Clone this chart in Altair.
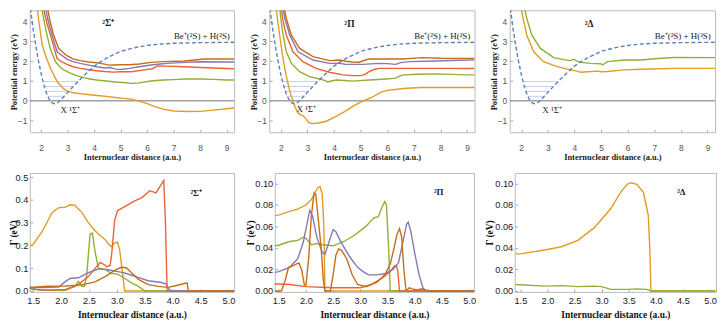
import altair as alt
import pandas as pd

BLUE, ORANGE, GREEN, RED, PURPLE, BROWN = "#5E81B5", "#E19C24", "#8FB032", "#EB6235", "#8778B3", "#C56E1A"

# ---------------- ground state X 1Σ+ (dashed, upper panels) ----------------
X_R = [1.57, 1.62, 1.7, 1.8, 1.9, 2.0, 2.1, 2.2, 2.3, 2.4, 2.5, 2.6, 2.7, 2.8, 3.0, 3.25, 3.5,
       3.75, 4.0, 4.25, 4.5, 5.0, 5.5, 6.0, 6.5, 7.0, 8.0, 9.28]
X_V = [5.0, 4.4, 3.6, 2.75, 2.0, 1.35, 0.8, 0.38, 0.08, -0.1, -0.16, -0.12, -0.02, 0.12, 0.42, 0.78, 1.12,
       1.45, 1.75, 1.98, 2.18, 2.5, 2.68, 2.8, 2.87, 2.91, 2.94, 2.96]
VIB_V = [0.22, 0.47, 0.72, 0.97]
VIB_R1 = [2.25, 2.18, 2.12, 2.07]
VIB_R2 = [2.86, 3.03, 3.2, 3.39]

# ---------------- 2Σ+ potential curves ----------------
S1_R = [1.83, 1.9, 2.04, 2.2, 2.35, 2.6, 2.85, 3.0, 3.22, 3.5, 3.84, 4.2, 4.46, 4.8, 5.09, 5.4, 5.7, 6.0, 6.3, 6.6, 7.0, 7.5, 8.0, 8.5, 9.0, 9.28]
S1_V = [5.0, 4.1, 2.81, 2.15, 1.64, 0.97, 0.6, 0.48, 0.4, 0.35, 0.3, 0.25, 0.22, 0.16, 0.12, 0.08, -0.02, -0.15, -0.3, -0.43, -0.52, -0.55, -0.54, -0.48, -0.41, -0.37]
S2_R = [1.98, 2.1, 2.22, 2.35, 2.54, 2.7, 2.85, 3.1, 3.34, 3.6, 3.84, 4.1, 4.46, 4.8, 5.09, 5.4, 5.7, 6.14, 6.6, 7.0, 7.39, 8.0, 8.5, 9.0, 9.28]
S2_V = [5.0, 4.1, 3.32, 2.6, 1.97, 1.72, 1.56, 1.4, 1.27, 1.17, 1.1, 1.05, 1.0, 0.95, 0.92, 0.88, 0.9, 1.0, 1.05, 1.07, 1.1, 1.1, 1.08, 1.05, 1.05]
S3_R = [2.04, 2.2, 2.35, 2.6, 2.8, 2.97, 3.2, 3.47, 3.8, 4.09, 4.4, 4.71, 5.0, 5.4, 5.9, 6.2, 6.39, 6.7, 7.39, 8.0, 9.0, 9.28]
S3_V = [5.0, 4.0, 3.32, 2.14, 1.95, 1.84, 1.72, 1.64, 1.57, 1.52, 1.48, 1.45, 1.47, 1.47, 1.56, 1.62, 1.76, 1.75, 1.72, 1.68, 1.63, 1.62]
S4_R = [2.13, 2.25, 2.41, 2.6, 2.97, 3.2, 3.47, 3.8, 4.09, 4.4, 4.6, 4.8, 5.0, 5.34, 5.7, 6.14, 6.5, 6.76, 7.2, 8.0, 9.0, 9.28]
S4_V = [5.0, 4.1, 3.32, 2.48, 2.11, 1.98, 1.89, 1.8, 1.72, 1.66, 1.68, 1.6, 1.58, 1.64, 1.72, 1.81, 1.86, 1.89, 1.93, 1.97, 1.96, 1.96]
S5_R = [2.2, 2.32, 2.47, 2.66, 2.97, 3.2, 3.47, 3.8, 4.09, 4.4, 4.55, 4.71, 5.0, 5.34, 5.7, 6.14, 6.6, 7.39, 7.8, 8.13, 9.0, 9.28]
S5_V = [5.0, 4.1, 3.32, 2.64, 2.28, 2.12, 2.03, 1.96, 1.92, 1.85, 1.8, 1.81, 1.82, 1.82, 1.86, 1.94, 1.98, 2.01, 2.06, 2.11, 2.11, 2.11]

# ---------------- 2Π potential curves ----------------
P1_R = [1.81, 1.88, 1.96, 2.05, 2.15, 2.25, 2.34, 2.46, 2.55, 2.65, 2.75, 2.85, 2.95, 3.05, 3.15, 3.3, 3.45, 3.71, 4.08, 4.4, 4.75, 5.12, 5.4, 5.75, 6.0, 6.3, 6.62, 7.24, 8.0, 9.0, 9.28]
P1_V = [5.0, 4.1, 3.32, 2.45, 1.64, 1.0, 0.47, -0.03, -0.35, -0.62, -0.72, -0.78, -0.92, -1.1, -1.15, -1.15, -1.12, -1.04, -0.79, -0.55, -0.25, 0.0, 0.15, 0.42, 0.52, 0.57, 0.62, 0.67, 0.67, 0.67, 0.67]
P2_R = [1.94, 2.0, 2.09, 2.21, 2.4, 2.71, 3.08, 3.46, 3.64, 3.77, 3.9, 4.08, 4.4, 4.7, 5.32, 5.95, 6.32, 6.45, 6.62, 7.19, 7.86, 9.0, 9.28]
P2_V = [5.0, 4.2, 3.32, 2.48, 1.89, 1.47, 1.22, 1.1, 1.03, 0.95, 1.0, 1.05, 1.02, 0.99, 1.05, 1.1, 1.14, 1.25, 1.31, 1.34, 1.36, 1.31, 1.31]
P3_R = [1.99, 2.08, 2.21, 2.46, 2.83, 3.33, 3.83, 4.33, 4.7, 5.0, 5.15, 5.32, 5.5, 5.7, 6.57, 8.0, 9.28]
P3_V = [5.0, 4.1, 3.32, 2.48, 1.98, 1.64, 1.44, 1.31, 1.27, 1.27, 1.32, 1.47, 1.58, 1.64, 1.64, 1.64, 1.63]
P4_R = [2.04, 2.15, 2.34, 2.65, 3.21, 3.83, 4.2, 4.45, 4.7, 5.07, 5.7, 6.0, 6.32, 6.5, 6.82, 7.82, 9.28]
P4_V = [5.0, 4.2, 3.32, 2.48, 2.06, 1.89, 1.9, 1.84, 1.84, 1.84, 1.89, 1.88, 1.84, 1.93, 1.98, 2.01, 2.07]
P5_R = [2.09, 2.2, 2.4, 2.71, 3.21, 3.83, 4.2, 4.45, 4.7, 4.95, 5.15, 5.32, 6.57, 7.32, 8.0, 9.28]
P5_V = [5.0, 4.2, 3.32, 2.65, 2.23, 2.03, 2.06, 2.0, 1.96, 1.95, 2.05, 2.11, 2.11, 2.18, 2.15, 2.14]

# ---------------- 2Δ potential curves ----------------
D1_R = [1.96, 2.05, 2.21, 2.47, 2.84, 3.35, 3.85, 4.1, 4.23, 4.5, 4.86, 5.0, 5.24, 5.87, 6.5, 7.76, 9.28]
D1_V = [5.0, 4.3, 3.32, 2.48, 1.98, 1.73, 1.56, 1.5, 1.44, 1.47, 1.5, 1.47, 1.48, 1.56, 1.59, 1.64, 1.64]
D2_R = [2.09, 2.2, 2.4, 2.72, 3.22, 3.6, 3.85, 3.98, 4.1, 4.23, 4.61, 4.99, 5.05, 5.24, 5.87, 6.5, 7.13, 7.76, 9.28]
D2_V = [5.0, 4.2, 3.32, 2.65, 2.18, 2.08, 2.03, 2.1, 2.0, 1.94, 1.89, 1.87, 1.81, 1.98, 2.06, 2.06, 2.14, 2.19, 2.18]

# ---------------- widths Γ, 2Σ+ ----------------
GS1_R = [1.41, 1.5, 1.66, 1.84, 1.96, 2.08, 2.16, 2.25, 2.37, 2.49, 2.58, 2.67, 2.79, 2.85, 2.9, 2.96, 3.01, 3.05, 3.11, 3.14, 5.1]
GS1_G = [0.194, 0.205, 0.26, 0.345, 0.365, 0.368, 0.378, 0.375, 0.345, 0.3, 0.272, 0.25, 0.225, 0.205, 0.195, 0.21, 0.215, 0.18, 0.06, 0.0, 0.0]
GS2_R = [1.41, 1.5, 1.6, 1.78, 2.08, 2.25, 2.31, 2.37, 2.42, 2.46, 2.52, 2.56, 2.61, 2.67, 2.79, 2.9, 3.02, 3.14, 3.26, 3.38, 3.5, 5.1]
GS2_G = [0.022, 0.011, 0.004, 0.003, 0.003, 0.02, 0.042, 0.021, 0.021, 0.07, 0.25, 0.254, 0.17, 0.1, 0.095, 0.077, 0.073, 0.056, 0.035, 0.021, 0.0, 0.0]
GS3_R = [1.41, 1.5, 1.78, 2.08, 2.31, 2.49, 2.61, 2.7, 2.78, 2.82, 2.88, 2.91, 2.96, 3.01, 3.14, 3.32, 3.45, 3.59, 3.7, 3.8, 3.84, 3.87, 3.9, 5.1]
GS3_G = [0.014, 0.007, 0.003, 0.007, 0.028, 0.063, 0.099, 0.125, 0.115, 0.106, 0.113, 0.17, 0.31, 0.352, 0.37, 0.395, 0.41, 0.44, 0.43, 0.47, 0.485, 0.3, 0.0, 0.0]
GS4_R = [1.41, 1.5, 1.78, 1.96, 2.08, 2.16, 2.31, 2.49, 2.67, 2.85, 3.02, 3.14, 3.38, 3.56, 3.8, 3.88, 3.94, 4.0, 5.1]
GS4_G = [0.02, 0.014, 0.016, 0.017, 0.042, 0.055, 0.058, 0.08, 0.097, 0.093, 0.085, 0.079, 0.06, 0.045, 0.037, 0.03, 0.005, 0.0, 0.0]
GS5_R = [1.41, 1.5, 1.78, 2.08, 2.37, 2.61, 2.79, 2.96, 3.08, 3.17, 3.26, 3.38, 3.56, 3.74, 3.91, 4.03, 4.21, 4.26, 4.28, 5.1]
GS5_G = [0.007, 0.017, 0.021, 0.022, 0.027, 0.04, 0.063, 0.09, 0.104, 0.102, 0.08, 0.052, 0.028, 0.02, 0.016, 0.022, 0.033, 0.035, 0.0, 0.0]

# ---------------- widths Γ, 2Π ----------------
GP1_R = [1.41, 1.5, 1.7, 1.85, 2.0, 2.1, 2.17, 2.22, 2.26, 2.3, 2.33, 2.35, 5.1]
GP1_G = [0.070, 0.0705, 0.074, 0.076, 0.08, 0.085, 0.092, 0.096, 0.097, 0.09, 0.06, 0.0, 0.0]
GP2_R = [1.41, 1.5, 1.7, 1.85, 1.95, 2.0, 2.1, 2.2, 2.3, 2.5, 2.7, 2.9, 3.1, 3.25, 3.33, 3.4, 3.45, 3.48, 3.52, 3.55, 5.1]
GP2_G = [0.042, 0.0425, 0.046, 0.047, 0.05, 0.049, 0.043, 0.044, 0.043, 0.042, 0.046, 0.052, 0.06, 0.068, 0.069, 0.078, 0.083, 0.08, 0.04, 0.0, 0.0]
GP3_R = [1.41, 1.5, 1.7, 2.0, 2.5, 3.0, 3.2, 3.4, 3.55, 3.62, 3.66, 3.69, 3.72, 5.1]
GP3_G = [0.0065, 0.0065, 0.006, 0.004, 0.003, 0.003, 0.006, 0.012, 0.018, 0.023, 0.024, 0.018, 0.0, 0.0]
GP4_R = [1.41, 1.5, 1.7, 1.85, 1.95, 2.03, 2.07, 2.12, 2.2, 2.3, 2.35, 2.42, 2.5, 2.55, 2.65, 2.8, 2.95, 3.05, 3.15, 3.3, 3.45, 3.6, 3.7, 3.78, 3.85, 3.88, 3.93, 4.0, 4.08, 4.15, 4.2, 5.1]
GP4_G = [0.017, 0.018, 0.022, 0.03, 0.045, 0.065, 0.075, 0.07, 0.05, 0.036, 0.034, 0.045, 0.057, 0.055, 0.045, 0.032, 0.022, 0.018, 0.015, 0.015, 0.016, 0.02, 0.026, 0.045, 0.062, 0.064, 0.055, 0.035, 0.015, 0.003, 0.0, 0.0]
GP5_R = [1.41, 1.55, 1.62, 1.68, 1.75, 1.82, 1.87, 1.92, 1.97, 2.0, 2.05, 2.1, 2.15, 2.18, 2.22, 2.28, 2.32, 2.35, 2.45, 2.5, 2.55, 2.6, 2.65, 2.75, 2.85, 2.95, 3.1, 3.3, 3.45, 3.55, 3.62, 3.67, 3.72, 3.76, 3.8, 3.84, 3.9, 3.95, 4.05, 4.12, 4.2, 4.3, 5.1]
GP5_G = [0.0, 0.0, 0.01, 0.022, 0.023, 0.025, 0.026, 0.02, 0.006, 0.005, 0.03, 0.07, 0.091, 0.09, 0.07, 0.04, 0.01, 0.0, 0.0, 0.015, 0.033, 0.039, 0.038, 0.03, 0.015, 0.006, 0.004, 0.008, 0.015, 0.025, 0.04, 0.052, 0.058, 0.05, 0.02, 0.0, 0.003, 0.002, 0.001, 0.002, 0.001, 0.0, 0.0]

# ---------------- widths Γ, 2Δ ----------------
GD1_R = [1.41, 1.5, 1.95, 2.26, 2.56, 2.86, 3.17, 3.35, 3.47, 3.54, 3.65, 3.77, 3.86, 3.89, 3.91, 5.1]
GD1_G = [0.0345, 0.0345, 0.0381, 0.0411, 0.0471, 0.0586, 0.0766, 0.0916, 0.0991, 0.1006, 0.0991, 0.0916, 0.0706, 0.0375, 0.0, 0.0]
GD2_R = [1.41, 1.95, 2.26, 2.56, 2.86, 3.0, 3.17, 3.47, 3.65, 3.83, 3.91, 5.1]
GD2_G = [0.006, 0.0045, 0.005, 0.004, 0.0045, 0.004, 0.0015, 0.0015, 0.002, 0.0015, 0.0, 0.0]

LAB_FONT = "Liberation Sans"
TIT_FONT = "Liberation Serif"


def curves_df(rs_list, vs_list, names):
    rows = []
    for n, rs, vs in zip(names, rs_list, vs_list):
        for i, (r, v) in enumerate(zip(rs, vs)):
            rows.append({"state": n, "R": r, "V": v, "i": i})
    return pd.DataFrame(rows)


def top_panel(rs_list, vs_list, colors, sym, sym_pos, xlab_pos, width):
    names = [f"c{k}" for k in range(len(rs_list))]
    xs = alt.Scale(domain=[1.57, 9.28], nice=False, zero=False)
    ys = alt.Scale(domain=[-1.6, 4.58], nice=False, zero=False)
    xax = alt.Axis(values=[2, 3, 4, 5, 6, 7, 8, 9], format="d", title="Internuclear distance (a.u.)",
                   titleFont=TIT_FONT, titleFontWeight="bold", titleFontSize=8.5, titleColor="#222",
                   labelFont=LAB_FONT, labelFontSize=8.5, labelColor="#555", grid=False, domain=False,
                   tickSize=3, tickColor="#aaa", offset=-3, labelPadding=11, titlePadding=1)
    yax = alt.Axis(values=[-1, 0, 1, 2, 3, 4], format="d", title="Potential energy (eV)",
                   titleFont=TIT_FONT, titleFontWeight="bold", titleFontSize=8.5, titleColor="#222",
                   titleX=-16, titleY=62, titleBaseline="alphabetic",
                   labelFont=LAB_FONT, labelFontSize=8.5, labelColor="#555", grid=False, domain=False,
                   tickSize=3, tickColor="#aaa", offset=-3, labelPadding=3)
    X = alt.X("R:Q", scale=xs, axis=xax)
    Y = alt.Y("V:Q", scale=ys, axis=yax)

    zero = alt.Chart(pd.DataFrame({"V": [0.0]})).mark_rule(color="#a0a0a0", strokeWidth=1.5).encode(y=Y)
    vib = alt.Chart(pd.DataFrame({"R": VIB_R1, "R2": VIB_R2, "V": VIB_V})).mark_rule(
        color="#c8ccee", strokeWidth=1).encode(x=X, x2="R2:Q", y=Y)
    cdf = curves_df(rs_list, vs_list, names)
    curves = alt.Chart(cdf).mark_line(clip=True, strokeWidth=1.4).encode(
        x=X, y=Y, order="i:Q",
        color=alt.Color("state:N", scale=alt.Scale(domain=names, range=colors), legend=None))
    gdf = pd.DataFrame({"R": X_R, "V": X_V, "i": list(range(len(X_R)))})
    ground = alt.Chart(gdf).mark_line(clip=True, strokeWidth=1.4, strokeDash=[4, 2.5], color=BLUE).encode(
        x=X, y=Y, order="i:Q")
    ann = pd.DataFrame({"R": [sym_pos[0], xlab_pos[0]], "V": [sym_pos[1], xlab_pos[1]],
                        "t": [sym, "X ¹Σ⁺"], "w": ["bold", "normal"]})
    t_sym = alt.Chart(ann.iloc[[0]]).mark_text(
        font=TIT_FONT, fontSize=9.5, fontWeight="bold", color="#222", align="center").encode(
        x=X, y=Y, text="t:N")
    t_asym = alt.Chart(pd.DataFrame({"R": [9.12], "V": [3.3], "t": ["Be⁺(²S) + H(²S)"]})).mark_text(
        font=TIT_FONT, fontSize=9, color="#222", align="right").encode(x=X, y=Y, text="t:N")
    t_x = alt.Chart(ann.iloc[[1]]).mark_text(
        font=TIT_FONT, fontSize=9, color="#222", align="center").encode(x=X, y=Y, text="t:N")
    return alt.layer(zero, vib, curves, ground, t_sym, t_asym, t_x).properties(width=width, height=123)


def bottom_panel(rs_list, gs_list, colors, sym, sym_pos, xdom, ymax, yvals, yfmt, width, title_x):
    names = [f"c{k}" for k in range(len(rs_list))]
    xs = alt.Scale(domain=xdom, nice=False, zero=False)
    ys = alt.Scale(domain=[-ymax * 0.008, ymax], nice=False, zero=False)
    xax = alt.Axis(values=[1.5, 2.0, 2.5, 3.0, 3.5, 4.0, 4.5, 5.0], format=".1f",
                   title="Internuclear distance (a.u.)",
                   titleFont=TIT_FONT, titleFontWeight="bold", titleFontSize=9.5, titleColor="#111",
                   labelFont=LAB_FONT, labelFontSize=9.3, labelColor="#222", grid=False, domain=False,
                   tickSize=3, tickColor="#aaa", offset=-3, labelPadding=4.5, titlePadding=4)
    yax = alt.Axis(values=yvals, format=yfmt, title="Γ (eV)",
                   titleFont=TIT_FONT, titleFontWeight="bold", titleFontSize=9.5, titleColor="#111",
                   titleX=title_x, titleY=60, titleBaseline="alphabetic",
                   labelFont=LAB_FONT, labelFontSize=9.3, labelColor="#222", grid=False, domain=False,
                   tickSize=3, tickColor="#aaa", offset=-3, labelPadding=2)
    X = alt.X("R:Q", scale=xs, axis=xax)
    Y = alt.Y("V:Q", scale=ys, axis=yax)
    cdf = curves_df(rs_list, gs_list, names)
    curves = alt.Chart(cdf).mark_line(clip=True, strokeWidth=1.4).encode(
        x=X, y=Y, order="i:Q",
        color=alt.Color("state:N", scale=alt.Scale(domain=names, range=colors), legend=None))
    t_sym = alt.Chart(pd.DataFrame({"R": [sym_pos[0]], "V": [sym_pos[1]], "t": [sym]})).mark_text(
        font=TIT_FONT, fontSize=9, fontWeight="bold", color="#222").encode(x=X, y=Y, text="t:N")
    return alt.layer(curves, t_sym).properties(width=width, height=120)


p1 = top_panel([S1_R, S2_R, S3_R, S4_R, S5_R], [S1_V, S2_V, S3_V, S4_V, S5_V],
               [ORANGE, GREEN, RED, PURPLE, BROWN], "²Σ⁺", (4.53, 3.95), (3.1, -0.45), 206)
p2 = top_panel([P1_R, P2_R, P3_R, P4_R, P5_R], [P1_V, P2_V, P3_V, P4_V, P5_V],
               [ORANGE, GREEN, RED, PURPLE, BROWN], "²Π", (4.58, 3.9), (2.96, -0.42), 207)
p3 = top_panel([D1_R, D2_R], [D1_V, D2_V], [ORANGE, GREEN], "²Δ", (4.55, 3.9), (3.16, -0.45), 207)

p4 = bottom_panel([GS1_R, GS2_R, GS3_R, GS4_R, GS5_R], [GS1_G, GS2_G, GS3_G, GS4_G, GS5_G],
                  [ORANGE, GREEN, RED, PURPLE, BROWN], "²Σ⁺", (4.42, 0.43), [1.44, 5.1], 0.518,
                  [0.0, 0.1, 0.2, 0.3, 0.4, 0.5], ".1f", 206, -16)
p5 = bottom_panel([GP1_R, GP2_R, GP3_R, GP4_R, GP5_R], [GP1_G, GP2_G, GP3_G, GP4_G, GP5_G],
                  [ORANGE, GREEN, RED, PURPLE, BROWN], "²Π", (4.44, 0.092), [1.427, 5.09], 0.1097,
                  [0.0, 0.02, 0.04, 0.06, 0.08, 0.10], ".2f", 201, -24)
p6 = bottom_panel([GD1_R, GD2_R], [GD1_G, GD2_G], [ORANGE, GREEN], "²Δ", (4.47, 0.0916), [1.396, 5.11], 0.1097,
                  [0.0, 0.02, 0.04, 0.06, 0.08, 0.10], ".2f", 203, -25)

top = alt.hconcat(p1, p2, p3, spacing=35.5, bounds="flush")
bottom = alt.hconcat(p4, p5, p6, spacing=41, bounds="flush")
chart = alt.vconcat(top, bottom, spacing=10).configure_view(stroke="#bbbbbb", strokeWidth=1).properties(padding=0)

chart.save("out.html", embed_options={"renderer": "svg", "actions": False})
